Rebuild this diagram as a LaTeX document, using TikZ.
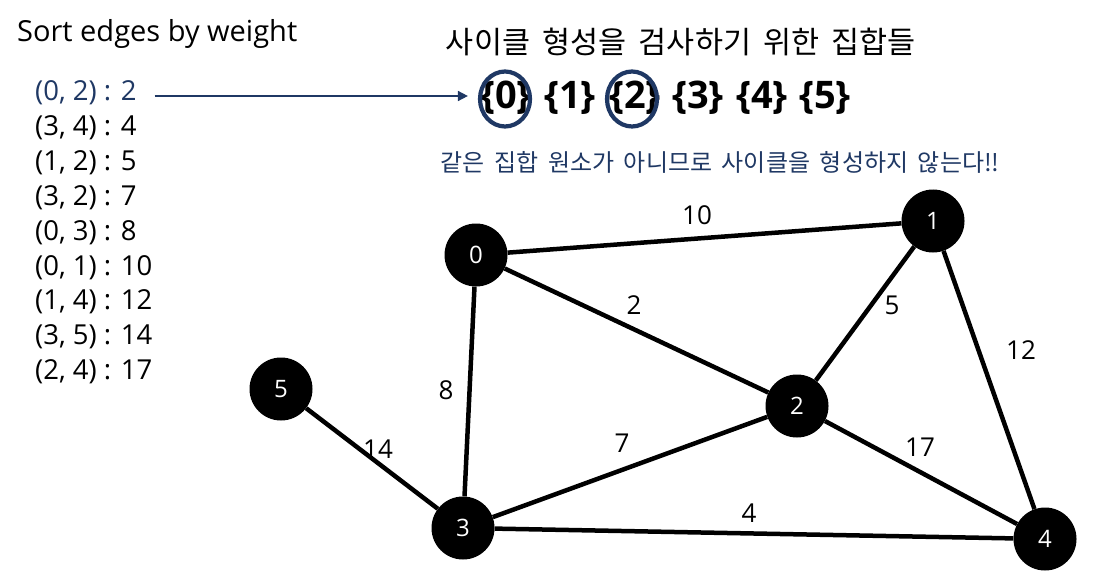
\documentclass[tikz,border=0pt]{standalone}
\usepackage{fontspec}
\setmainfont{Open Sans}
\newfontfamily\kr[WordSpace=1.8]{Noto Sans CJK KR}
\usetikzlibrary{arrows.meta,shapes.geometric}
\definecolor{navy}{RGB}{31,56,100}
\tikzset{
  vtx/.style={circle,fill=black,minimum size=63pt,inner sep=0pt,text=white,font=\fontsize{24}{28}\selectfont},
  edge/.style={line width=4.5pt,black},
  wlab/.style={inner sep=0pt,font=\fontsize{26}{30}\selectfont},
  lst/.style={anchor=west,inner sep=0pt,font=\fontsize{27.5}{32}\selectfont},
  setn/.style={inner sep=0pt,font=\fontsize{38}{44}\selectfont\bfseries},
  ring/.style={ellipse,draw=navy,line width=4.2pt,minimum width=50pt,minimum height=55pt,inner sep=0pt},
}
\begin{document}
\begin{tikzpicture}[x=1pt,y=-1pt]
\useasboundingbox (0,0) rectangle (1094,588);
% headings
\node[anchor=west,inner sep=0pt,font=\fontsize{29}{34}\selectfont] (title1) at (17,34) {Sort edges by weight};
\node[inner sep=0pt,font=\kr\fontsize{30.5}{36}\selectfont] (title2) at (681,42) {사이클 형성을 검사하기 위한 집합들};
\node[inner sep=0pt,text=navy,font=\kr\fontsize{24}{28}\selectfont] (note) at (720,162) {같은 집합 원소가 아니므로 사이클을 형성하지 않는다!!};
% sorted edge list
\node[lst,text=navy] (e1) at (35,93) {(0, 2) : 2};
\node[lst] (e2) at (35,128) {(3, 4) : 4};
\node[lst] (e3) at (35,163) {(1, 2) : 5};
\node[lst] (e4) at (35,198) {(3, 2) : 7};
\node[lst] (e5) at (35,233) {(0, 3) : 8};
\node[lst] (e6) at (35,268) {(0, 1) : 10};
\node[lst] (e7) at (35,302) {(1, 4) : 12};
\node[lst] (e8) at (35,337) {(3, 5) : 14};
\node[lst] (e9) at (35,372) {(2, 4) : 17};
% sets
\node[setn] (s0) at (506,98) {\{0\}};
\node[setn] (s1) at (570,98) {\{1\}};
\node[setn] (s2) at (635,98) {\{2\}};
\node[setn] (s3) at (698,98) {\{3\}};
\node[setn] (s4) at (762,98) {\{4\}};
\node[setn] (s5) at (825,98) {\{5\}};
\node[ring] (c0) at (505,99) {};
\node[ring] (c2) at (632,99) {};
\draw[navy,line width=1.6pt,-{Triangle[length=10pt,width=10pt]}] ([xshift=18pt,yshift=-3pt]e1.east) -- ([xshift=-10pt,yshift=3pt]c0.west);
% graph
\node[vtx] (v0) at (476,255) {0};
\node[vtx] (v1) at (933,221) {1};
\node[vtx] (v2) at (797,406) {2};
\node[vtx] (v3) at (463,528) {3};
\node[vtx] (v4) at (1045,539) {4};
\node[vtx] (v5) at (281,389) {5};
\draw[edge] (v0) -- (v1);
\draw[edge] (v0) -- (v2);
\draw[edge] (v0) -- (v3);
\draw[edge] (v1) -- (v2);
\draw[edge] (v1) -- (v4);
\draw[edge] (v2) -- (v3);
\draw[edge] (v2) -- (v4);
\draw[edge] (v3) -- (v4);
\draw[edge] (v5) -- (v3);
% weights
\node[wlab] (w01) at (697,215) {10};
\node[wlab] (w02) at (634,305) {2};
\node[wlab] (w12) at (892,305) {5};
\node[wlab] (w14) at (1021,350) {12};
\node[wlab] (w03) at (446,390) {8};
\node[wlab] (w35) at (378,449) {14};
\node[wlab] (w23) at (622,443) {7};
\node[wlab] (w24) at (920,447) {17};
\node[wlab] (w34) at (749,513) {4};
\end{tikzpicture}
\end{document}
